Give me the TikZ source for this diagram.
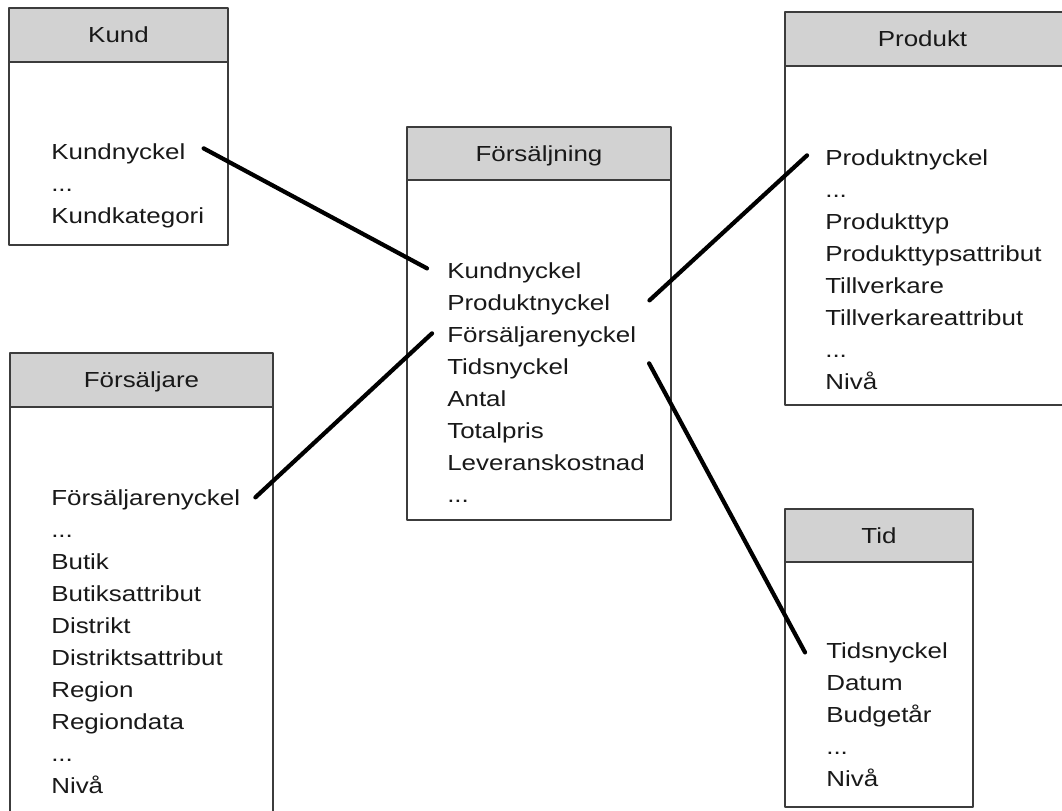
\documentclass[tikz,border=0pt]{standalone}
\usepackage{fontspec}
\setmainfont{Liberation Sans}[FakeStretch=1.19]
\usetikzlibrary{calc}
\definecolor{headgray}{HTML}{D2D2D2}
\definecolor{framegray}{HTML}{3C3C3C}
\newcommand{\px}{0.025cm}
\newcommand{\tredots}{...}

\begin{document}
\begin{tikzpicture}[
	x=0.025cm,
	y=-0.025cm,
	line join=round,
	every node/.style={font=\fontsize{15.5}{18}\selectfont, text=black!90},
	head/.style={draw=framegray, line width=1.3pt, fill=headgray, inner sep=0pt, text height=14pt, text depth=3pt},
	body/.style={draw=framegray, line width=1.3pt, fill=white, inner sep=0pt},
	item/.style={anchor=base west, inner sep=0pt},
	link/.style={line width=3pt, line cap=round},
	]
\useasboundingbox (0,0) rectangle (1062,810);
% tables
\node[body, minimum width=219*\px, minimum height=183*\px] (kund-box) at (118.5,153.5) {};
\node[head, minimum width=219*\px, minimum height=54*\px] (kund) at (118.5,35) {Kund};
\node[body, minimum width=264*\px, minimum height=340*\px] (fors-box) at (539,350) {};
\node[head, minimum width=264*\px, minimum height=53*\px] (fors) at (539,153.5) {Försäljning};
\node[body, minimum width=300*\px, minimum height=339*\px] (prod-box) at (935,235.5) {};
\node[head, minimum width=300*\px, minimum height=54*\px] (prod) at (935,39) {};
\node (prod-title) at (922.5,39) [head, draw=none, fill=none] {Produkt};
\node[body, minimum width=263*\px, minimum height=440*\px] (sal-box) at (141.5,627) {};
\node[head, minimum width=263*\px, minimum height=54*\px] (sal) at (141.5,380) {Försäljare};
\node[body, minimum width=188*\px, minimum height=245*\px] (tid-box) at (879,684.5) {};
\node[head, minimum width=188*\px, minimum height=53*\px] (tid) at (879,535.5) {Tid};
% attributes
\foreach \t [count=\i] in {Kundnyckel, \tredots, Kundkategori}
	\node[item] (kund-\i) at (51,{127+32*\i}) {\t};
\foreach \t [count=\i] in {Kundnyckel, Produktnyckel, Försäljarenyckel, Tidsnyckel,
	Antal, Totalpris, Leveranskostnad, \tredots}
	\node[item] (fors-\i) at (447,{246+32*\i}) {\t};
\foreach \t [count=\i] in {Produktnyckel, \tredots, Produkttyp, Produkttypsattribut,
	Tillverkare, Tillverkareattribut, \tredots, Nivå}
	\node[item] (prod-\i) at (825,{133+32*\i}) {\t};
\foreach \t [count=\i] in {Försäljarenyckel, \tredots, Butik, Butiksattribut, Distrikt,
	Distriktsattribut, Region, Regiondata, \tredots, Nivå}
	\node[item] (sal-\i) at (51,{473+32*\i}) {\t};
\foreach \t [count=\i] in {Tidsnyckel, Datum, Budgetår, \tredots, Nivå}
	\node[item] (tid-\i) at (826,{626+32*\i}) {\t};
% keys
\draw[link] ($(kund-1.east)+(18,-5)$) -- ($(fors-1.west)+(-20,-4)$);
\draw[link] ($(fors-2.east)+(39,-4)$) -- ($(prod-1.west)+(-18,-4)$);
\draw[link] ($(fors-3.west)+(-15,-3)$) -- ($(sal-1.east)+(15,-2)$);
\draw[link] ($(fors-4.east)+(80,-5)$) -- ($(tid-1.west)+(-21,0)$);
\end{tikzpicture}
\end{document}
